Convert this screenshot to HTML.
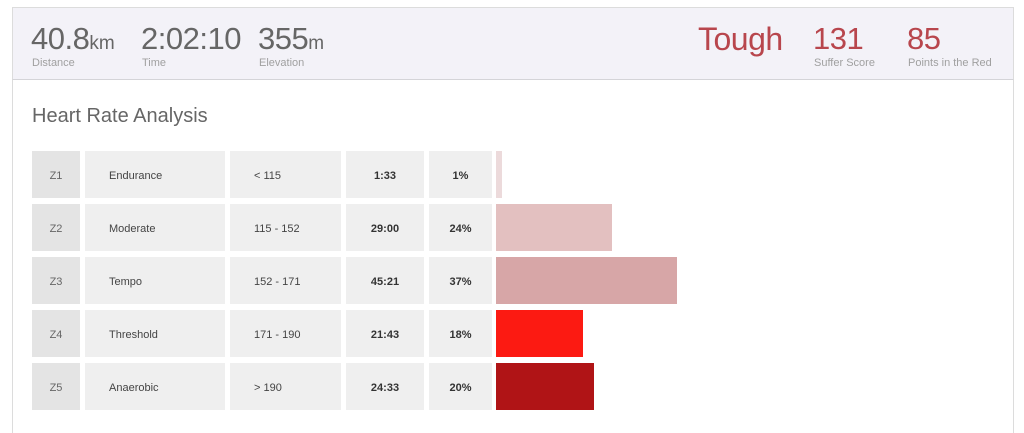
<!DOCTYPE html>
<html style="overflow:hidden;height:433px"><head><style>
body{margin:0;width:1024px;height:433px;background:#fff;position:relative;overflow:hidden;font-family:"Liberation Sans",sans-serif;}
.panel{position:absolute;left:12px;top:7px;width:1000px;height:430px;border:1px solid #dcdcdc;border-bottom:none;}
.hdr{position:absolute;left:12px;top:7px;width:1000px;height:71px;background:#f3f2f8;border:1px solid #dcdcdc;border-bottom:1px solid #d4d4d8;}
.s{position:absolute;font-size:31px;color:#666;letter-spacing:-0.5px;}
.s small{font-size:19px;letter-spacing:0}
.l{position:absolute;font-size:11px;color:#a0a0a0;top:57px;}
.r{color:#b8464d;}
h2{position:absolute;left:32px;top:105px;margin:0;font-weight:normal;font-size:20px;color:#666;}
.c{position:absolute;height:47px;background:#efefef;font-size:11px;color:#444;line-height:50px;}
.z{background:#e4e4e4;text-align:center;color:#666;}
.b{font-weight:bold;text-align:center;color:#333;}
.bar{position:absolute;height:47px;left:496px;}
</style></head><body>
<div class="panel"></div>
<div class="hdr"></div>
<div class="s" style="left:31px;top:21px">40.8<small>km</small></div>
<div class="l" style="left:32px">Distance</div>
<div class="s" style="left:141px;top:21px">2:02:10</div>
<div class="l" style="left:142px">Time</div>
<div class="s" style="left:258px;top:21px">355<small>m</small></div>
<div class="l" style="left:259px">Elevation</div>
<div class="s r" style="left:698px;top:21px;font-size:32px">Tough</div>
<div class="s r" style="left:813px;top:21px">131</div>
<div class="l" style="left:814px">Suffer Score</div>
<div class="s r" style="left:907px;top:21px">85</div>
<div class="l" style="left:908px">Points in the Red</div>
<h2>Heart Rate Analysis</h2>

<div class="c z" style="left:32px;top:151px;width:48px">Z1</div>
<div class="c" style="left:85px;top:151px;width:116px;padding-left:24px">Endurance</div>
<div class="c" style="left:230px;top:151px;width:87px;padding-left:24px">&lt; 115</div>
<div class="c b" style="left:346px;top:151px;width:78px">1:33</div>
<div class="c b" style="left:429px;top:151px;width:63px">1%</div>
<div class="bar" style="top:151px;width:6px;background:#ecdadb"></div>

<div class="c z" style="left:32px;top:204px;width:48px">Z2</div>
<div class="c" style="left:85px;top:204px;width:116px;padding-left:24px">Moderate</div>
<div class="c" style="left:230px;top:204px;width:87px;padding-left:24px">115 - 152</div>
<div class="c b" style="left:346px;top:204px;width:78px">29:00</div>
<div class="c b" style="left:429px;top:204px;width:63px">24%</div>
<div class="bar" style="top:204px;width:116px;background:#e3c0c0"></div>

<div class="c z" style="left:32px;top:257px;width:48px">Z3</div>
<div class="c" style="left:85px;top:257px;width:116px;padding-left:24px">Tempo</div>
<div class="c" style="left:230px;top:257px;width:87px;padding-left:24px">152 - 171</div>
<div class="c b" style="left:346px;top:257px;width:78px">45:21</div>
<div class="c b" style="left:429px;top:257px;width:63px">37%</div>
<div class="bar" style="top:257px;width:181px;background:#d7a6a7"></div>

<div class="c z" style="left:32px;top:310px;width:48px">Z4</div>
<div class="c" style="left:85px;top:310px;width:116px;padding-left:24px">Threshold</div>
<div class="c" style="left:230px;top:310px;width:87px;padding-left:24px">171 - 190</div>
<div class="c b" style="left:346px;top:310px;width:78px">21:43</div>
<div class="c b" style="left:429px;top:310px;width:63px">18%</div>
<div class="bar" style="top:310px;width:87px;background:#fc1a12"></div>

<div class="c z" style="left:32px;top:363px;width:48px">Z5</div>
<div class="c" style="left:85px;top:363px;width:116px;padding-left:24px">Anaerobic</div>
<div class="c" style="left:230px;top:363px;width:87px;padding-left:24px">&gt; 190</div>
<div class="c b" style="left:346px;top:363px;width:78px">24:33</div>
<div class="c b" style="left:429px;top:363px;width:63px">20%</div>
<div class="bar" style="top:363px;width:98px;background:#b01416"></div>
</body></html>
